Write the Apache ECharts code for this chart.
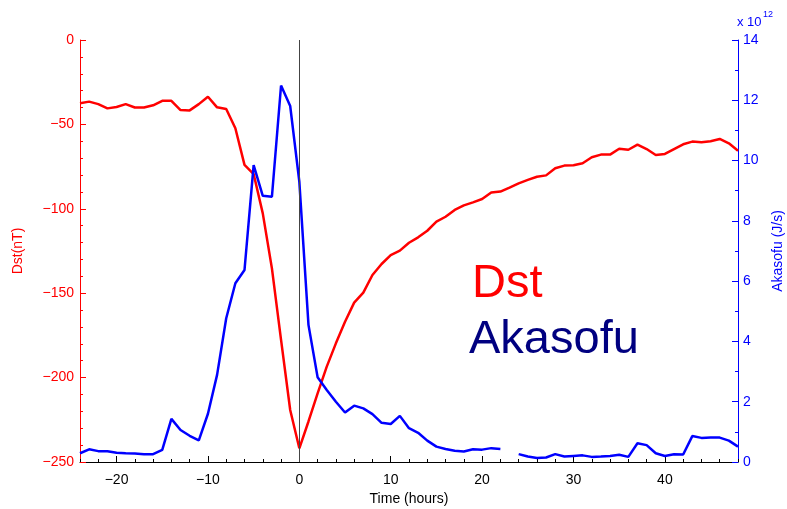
<!DOCTYPE html>
<html>
<head>
<meta charset="utf-8">
<script src="https://cdn.jsdelivr.net/npm/echarts@6/dist/echarts.min.js"></script>
<style>
html,body{margin:0;padding:0;background:#fff;}
#c{width:787px;height:509px;}
</style>
</head>
<body>
<div id="c"></div>
<script>
// Time (hours) relative to storm onset
var hours = [-24,-23,-22,-21,-20,-19,-18,-17,-16,-15,-14,-13,-12,-11,-10,-9,-8,-7,-6,-5,-4,-3,-2,-1,
  0,1,2,3,4,5,6,7,8,9,10,11,12,13,14,15,16,17,18,19,20,21,22,23,
  24,25,26,27,28,29,30,31,32,33,34,35,36,37,38,39,40,41,42,43,44,45,46,47,48];

// Dst index (nT)
var dst = [-37.5,-36.5,-38,-40.5,-39.7,-38,-40,-40,-38.7,-36,-36,-41.5,-41.7,-38,-33.6,-39.9,-40.9,-52.3,-74,-79.4,-102.7,-135.3,-177.7,-219.2,
  -241.9,-226,-209.3,-193.5,-179.7,-166.9,-155.6,-149.7,-139.2,-132.7,-127.4,-124.8,-120.1,-116.9,-113,-107.6,-104.7,-100.7,-98,-96.2,-94.2,-90.3,-89.8,-87.4,
  -84.9,-82.9,-81,-80.2,-76,-74.4,-74.2,-73,-69.5,-67.9,-67.9,-64.4,-65,-62,-64.6,-68.1,-67.5,-64.6,-61.8,-60.2,-60.6,-60,-58.6,-61.2,-65.6];

// Akasofu epsilon (x 10^12 J/s); null = data gap
var akasofu = [0.29,0.42,0.36,0.36,0.31,0.29,0.28,0.26,0.26,0.40,1.43,1.06,0.87,0.72,1.60,2.89,4.77,5.93,6.37,9.85,8.83,8.80,12.49,11.81,
  9.3,4.55,2.81,2.39,2.0,1.64,1.87,1.78,1.59,1.30,1.26,1.53,1.12,0.97,0.71,0.51,0.43,0.37,0.35,0.42,0.41,0.46,0.43,null,
  0.26,0.18,0.13,0.15,0.26,0.18,0.2,0.22,0.17,0.18,0.2,0.24,0.17,0.62,0.56,0.29,0.2,0.26,0.25,0.86,0.8,0.81,0.81,0.71,0.51];

var xTickLabels = [-20,-10,0,10,20,30,40];

function minusFmt(v){ return v < 0 ? '\u2212' + Math.abs(v) : String(v); }

var dstData = hours.map(function(h,i){ return [h, dst[i]]; });
var akaData = hours.map(function(h,i){ return [h, akasofu[i]]; });

var FONT = 'Liberation Sans, Arial, Helvetica, sans-serif';
var chart = echarts.init(document.getElementById('c'), null, {renderer:'canvas'});
chart.setOption({
  animation: false,
  backgroundColor: '#ffffff',
  grid: [
    {left: 80, right: 49, top: 40, bottom: 47, containLabel: false, outerBoundsMode: 'none'},
    {left: 80, right: 49, top: 40, bottom: 47, containLabel: false, outerBoundsMode: 'none'}
  ],
  xAxis: [{
    type: 'value', min: -24, max: 48, gridIndex: 0,
    name: 'Time (hours)', nameLocation: 'middle', nameGap: 30,
    nameTextStyle: {color: '#000', fontSize: 14, fontFamily: FONT},
    axisLine: {show: true, onZero: false, lineStyle: {color: '#000', width: 1}},
    axisTick: {show: true, inside: true, length: 6, customValues: xTickLabels, lineStyle: {color: '#000'}},
    axisLabel: {show: true, customValues: xTickLabels, formatter: minusFmt, color: '#000', fontSize: 14, fontFamily: FONT, margin: 11},
    splitLine: {show: false}
  },{
    type: 'value', min: -24, max: 48, interval: 2, gridIndex: 1, position: 'bottom',
    axisLine: {show: false, onZero: false},
    axisTick: {show: true, inside: true, length: 3, lineStyle: {color: '#000'}},
    axisLabel: {show: false},
    splitLine: {show: false}
  }],
  yAxis: [{
    type: 'value', min: -250, max: 0, interval: 50, position: 'left', gridIndex: 0,
    name: 'Dst(nT)', nameLocation: 'middle', nameGap: 55,
    nameTextStyle: {color: '#ff0000', fontSize: 14, fontFamily: FONT},
    axisLine: {show: true, onZero: false, lineStyle: {color: '#ff0000', width: 1}},
    axisTick: {show: true, inside: true, length: 6, lineStyle: {color: '#ff0000'}},
    minorTick: {show: true, splitNumber: 5, length: 3, lineStyle: {color: '#ff0000'}},
    axisLabel: {formatter: minusFmt, color: '#ff0000', fontSize: 14, fontFamily: FONT, margin: 6},
    splitLine: {show: false}
  },{
    type: 'value', min: 0, max: 14, interval: 2, position: 'right', gridIndex: 0,
    name: 'Akasofu (J/s)', nameLocation: 'middle', nameGap: 33, nameRotate: 90,
    nameTextStyle: {color: '#0000ff', fontSize: 14, fontFamily: FONT},
    axisLine: {show: true, onZero: false, lineStyle: {color: '#0000ff', width: 1}},
    axisTick: {show: true, inside: true, length: 6, lineStyle: {color: '#0000ff'}},
    minorTick: {show: true, splitNumber: 2, length: 3, lineStyle: {color: '#0000ff'}},
    axisLabel: {color: '#0000ff', fontSize: 14, fontFamily: FONT, margin: 5},
    splitLine: {show: false}
  },{
    type: 'value', min: 0, max: 1, gridIndex: 1, show: false
  }],
  series: [{
    name: 'Dst', type: 'line', xAxisIndex: 0, yAxisIndex: 0,
    data: dstData, showSymbol: false, symbol: 'none',
    lineStyle: {color: '#ff0000', width: 2.5}, itemStyle: {color: '#ff0000'},
    markLine: {
      silent: true, symbol: ['none','none'], label: {show: false},
      lineStyle: {color: '#444', width: 1, type: 'solid'},
      data: [{xAxis: 0}]
    }
  },{
    name: 'Akasofu', type: 'line', xAxisIndex: 0, yAxisIndex: 1,
    data: akaData, showSymbol: false, symbol: 'none', connectNulls: false,
    lineStyle: {color: '#0000ff', width: 2.5}, itemStyle: {color: '#0000ff'}
  }],
  graphic: [
    {type: 'text', left: 472, top: 261, style: {text: 'Dst', fill: '#ff0000', font: '47px ' + FONT}},
    {type: 'text', left: 469, top: 317, style: {text: 'Akasofu', fill: '#000080', font: '47px ' + FONT}},
    {type: 'text', left: 737, top: 16, style: {text: 'x 10', fill: '#0000ff', font: '13px ' + FONT}},
    {type: 'text', left: 763, top: 10, style: {text: '12', fill: '#0000ff', font: '9px ' + FONT}}
  ]
});
</script>
</body>
</html>
